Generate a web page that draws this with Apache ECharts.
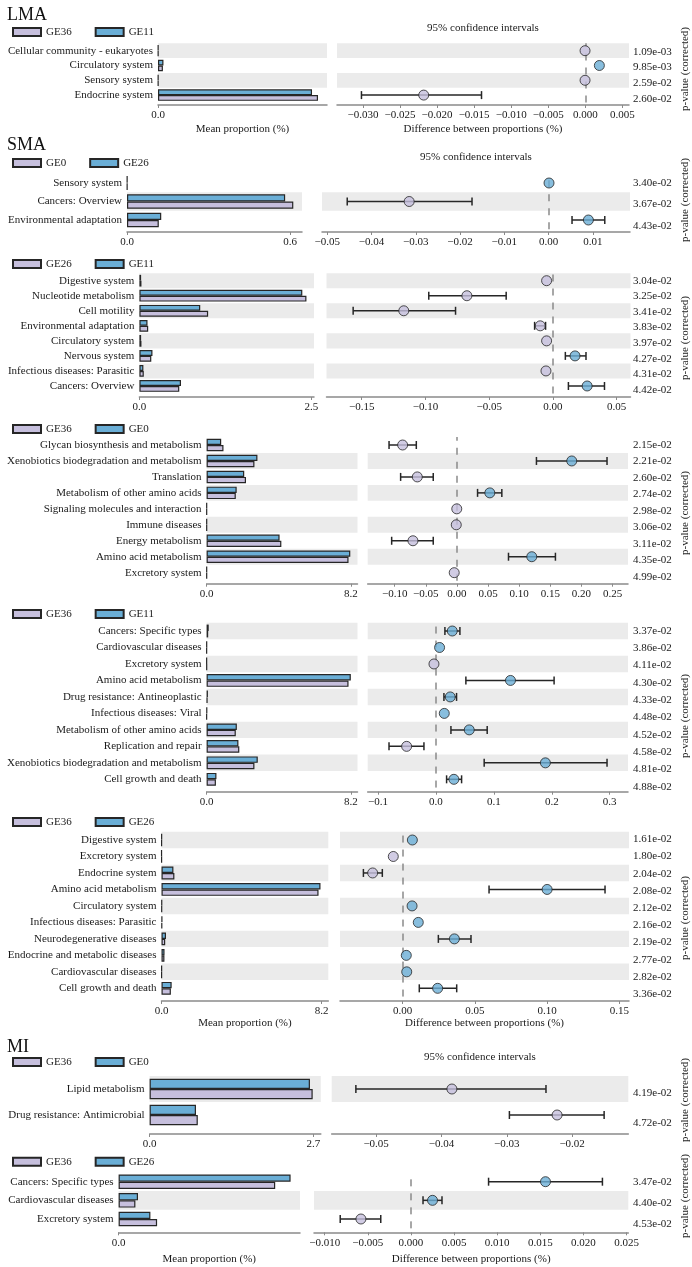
<!DOCTYPE html>
<html><head><meta charset="utf-8">
<script src="https://cdn.jsdelivr.net/npm/echarts@6/dist/echarts.min.js"></script>
<style>html,body{margin:0;padding:0;background:#fff}#c{width:692px;height:1267px}</style>
</head><body><div id="c"></div>
<script>
// ---------------- DATA (rows listed top to bottom) ----------------
const lmaGroups = ['GE36', 'GE11'];
const lmaNames = ['Cellular community - eukaryotes', 'Circulatory system', 'Sensory system', 'Endocrine system'];
const lmaG1 = [0.001, 0.018, 0.001, 0.587];
const lmaG2 = [0.001, 0.020, 0.001, 0.565];
const lmaDiff = [-0.00003, 0.0019, -0.00003, -0.0218];
const lmaLo = [null, null, null, -0.0302];
const lmaHi = [null, null, null, -0.0140];
const lmaP = ['1.09e-03', '9.85e-03', '2.59e-02', '2.60e-02'];
const lmaBarTicks = ['0.0'];
const lmaCiTicks = ['\u22120.030', '\u22120.025', '\u22120.020', '\u22120.015', '\u22120.010', '\u22120.005', '0.000', '0.005'];

const sma1Groups = ['GE0', 'GE26'];
const sma1Names = ['Sensory system', 'Cancers: Overview', 'Environmental adaptation'];
const sma1G1 = [0.001, 0.612, 0.117];
const sma1G2 = [0.001, 0.582, 0.126];
const sma1Diff = [0.0001, -0.0315, 0.0090];
const sma1Lo = [null, -0.0455, 0.0053];
const sma1Hi = [null, -0.0173, 0.0127];
const sma1P = ['3.40e-02', '3.67e-02', '4.43e-02'];
const sma1BarTicks = ['0.0', '0.6'];
const sma1CiTicks = ['\u22120.05', '\u22120.04', '\u22120.03', '\u22120.02', '\u22120.01', '0.00', '0.01'];

const sma2Groups = ['GE26', 'GE11'];
const sma2Names = ['Digestive system', 'Nucleotide metabolism', 'Cell motility', 'Environmental adaptation', 'Circulatory system', 'Nervous system', 'Infectious diseases: Parasitic', 'Cancers: Overview'];
const sma2G1 = [0.030, 2.43, 1.00, 0.128, 0.030, 0.173, 0.064, 0.58];
const sma2G2 = [0.025, 2.37, 0.885, 0.118, 0.025, 0.190, 0.058, 0.605];
const sma2Diff = [-0.0050, -0.0675, -0.1170, -0.0100, -0.0050, 0.0173, -0.0055, 0.0268];
const sma2Lo = [null, -0.0974, -0.1567, -0.0144, null, 0.0097, null, 0.0121];
const sma2Hi = [null, -0.0367, -0.0764, -0.0058, null, 0.0259, null, 0.0404];
const sma2P = ['3.04e-02', '3.25e-02', '3.41e-02', '3.83e-02', '3.97e-02', '4.27e-02', '4.31e-02', '4.42e-02'];
const sma2BarTicks = ['0.0', '2.5'];
const sma2CiTicks = ['\u22120.15', '\u22120.10', '\u22120.05', '0.00', '0.05'];

const sma3Groups = ['GE36', 'GE0'];
const sma3Names = ['Glycan biosynthesis and metabolism', 'Xenobiotics biodegradation and metabolism', 'Translation', 'Metabolism of other amino acids', 'Signaling molecules and interaction', 'Immune diseases', 'Energy metabolism', 'Amino acid metabolism', 'Excretory system'];
const sma3G1 = [0.96, 2.72, 2.24, 1.66, 0.01, 0.01, 4.25, 8.07, 0.01];
const sma3G2 = [0.83, 2.89, 2.14, 1.71, 0.01, 0.01, 4.15, 8.17, 0.01];
const sma3Diff = [-0.0872, 0.1845, -0.0636, 0.0529, -0.0002, -0.0010, -0.0706, 0.1203, -0.0043];
const sma3Lo = [-0.1090, 0.1278, -0.0904, 0.0332, null, null, -0.1048, 0.0829, null];
const sma3Hi = [-0.0652, 0.2412, -0.0380, 0.0722, null, null, -0.0380, 0.1583, null];
const sma3P = ['2.15e-02', '2.21e-02', '2.60e-02', '2.74e-02', '2.98e-02', '3.06e-02', '3.11e-02', '4.35e-02', '4.99e-02'];
const sma3BarTicks = ['0.0', '8.2'];
const sma3CiTicks = ['\u22120.10', '\u22120.05', '0.00', '0.05', '0.10', '0.15', '0.20', '0.25'];

const sma4Groups = ['GE36', 'GE11'];
const sma4Names = ['Cancers: Specific types', 'Cardiovascular diseases', 'Excretory system', 'Amino acid metabolism', 'Drug resistance: Antineoplastic', 'Infectious diseases: Viral', 'Metabolism of other amino acids', 'Replication and repair', 'Xenobiotics biodegradation and metabolism', 'Cell growth and death'];
const sma4G1 = [0.09, 0.005, 0.010, 8.07, 0.05, 0.005, 1.66, 1.86, 2.72, 0.53];
const sma4G2 = [0.12, 0.010, 0.005, 8.20, 0.075, 0.020, 1.72, 1.81, 2.91, 0.56];
const sma4Diff = [0.0282, 0.0063, -0.0034, 0.1287, 0.0247, 0.0144, 0.0575, -0.0506, 0.1890, 0.0310];
const sma4Lo = [0.0155, null, null, 0.0517, 0.0138, null, 0.0259, -0.0810, 0.0833, 0.0184];
const sma4Hi = [0.0414, null, null, 0.2040, 0.0356, null, 0.0885, -0.0207, 0.2954, 0.0443];
const sma4P = ['3.37e-02', '3.86e-02', '4.11e-02', '4.30e-02', '4.33e-02', '4.48e-02', '4.52e-02', '4.58e-02', '4.81e-02', '4.88e-02'];
const sma4BarTicks = ['0.0', '8.2'];
const sma4CiTicks = ['\u22120.1', '0.0', '0.1', '0.2', '0.3'];

const sma5Groups = ['GE36', 'GE26'];
const sma5Names = ['Digestive system', 'Excretory system', 'Endocrine system', 'Amino acid metabolism', 'Circulatory system', 'Infectious diseases: Parasitic', 'Neurodegenerative diseases', 'Endocrine and metabolic diseases', 'Cardiovascular diseases', 'Cell growth and death'];
const sma5G1 = [0.010, 0.010, 0.66, 8.04, 0.020, 0.030, 0.19, 0.150, 0.010, 0.48];
const sma5G2 = [0.015, 0.005, 0.61, 8.14, 0.025, 0.040, 0.23, 0.155, 0.013, 0.52];
const sma5Diff = [0.0067, -0.0065, -0.0208, 0.1000, 0.0065, 0.0108, 0.0358, 0.0025, 0.0028, 0.0242];
const sma5Lo = [null, null, -0.0272, 0.0598, null, null, 0.0247, null, null, 0.0115];
const sma5Hi = [null, null, -0.0141, 0.1401, null, null, 0.0473, null, null, 0.0374];
const sma5P = ['1.61e-02', '1.80e-02', '2.04e-02', '2.08e-02', '2.12e-02', '2.16e-02', '2.19e-02', '2.77e-02', '2.82e-02', '3.36e-02'];
const sma5BarTicks = ['0.0', '8.2'];
const sma5CiTicks = ['0.00', '0.05', '0.10', '0.15'];

const mi1Groups = ['GE36', 'GE0'];
const mi1Names = ['Lipid metabolism', 'Drug resistance: Antimicrobial'];
const mi1G1 = [2.69, 0.795];
const mi1G2 = [2.645, 0.765];
const mi1Diff = [-0.0384, -0.0223];
const mi1Lo = [-0.0531, -0.0296];
const mi1Hi = [-0.0240, -0.0151];
const mi1P = ['4.19e-02', '4.72e-02'];
const mi1BarTicks = ['0.0', '2.7'];
const mi1CiTicks = ['\u22120.05', '\u22120.04', '\u22120.03', '\u22120.02'];

const mi2Groups = ['GE36', 'GE26'];
const mi2Names = ['Cancers: Specific types', 'Cardiovascular diseases', 'Excretory system'];
const mi2G1 = [0.1566, 0.0168, 0.0385];
const mi2G2 = [0.1720, 0.0194, 0.0318];
const mi2Diff = [0.0156, 0.0025, -0.0058];
const mi2Lo = [0.0090, 0.0014, -0.0082];
const mi2Hi = [0.0222, 0.0036, -0.0035];
const mi2P = ['3.47e-02', '4.40e-02', '4.53e-02'];
const mi2BarTicks = ['0.0'];
const mi2CiTicks = ['\u22120.010', '\u22120.005', '0.000', '0.005', '0.010', '0.015', '0.020', '0.025'];

const sectionTitles = ['LMA', 'SMA', 'MI'];

// ---------------- LAYOUT / STYLE ----------------
const FONT = "'Liberation Serif','Times New Roman',serif";
const LAV = '#c6bfdd', BLUE = '#6aaed6', EDGE = '#262626', SHADE = '#ebebeb', AXIS = '#8a8a8a', TXT = '#1a1a1a';
const FS = 11;

const panels = [
  {id:'lma', groups:lmaGroups, names:lmaNames, g1:lmaG1, g2:lmaG2, diff:lmaDiff, lo:lmaLo, hi:lmaHi, p:lmaP, barTicks:lmaBarTicks, ciTicks:lmaCiTicks,
   L:{rowTop:50.7,rowH:14.8,axisY:105,legendY:33,barL:158,barR:327,barMax:0.62,ciL:337,ciR:629,ciMin:-0.0335,ciMax:0.0059,pTop:51.7,pH:15.8,pLabelY:69,ciTitle:[483,28],names:18.5}},
  {id:'sma1', groups:sma1Groups, names:sma1Names, g1:sma1G1, g2:sma1G2, diff:sma1Diff, lo:sma1Lo, hi:sma1Hi, p:sma1P, barTicks:sma1BarTicks, ciTicks:sma1CiTicks,
   L:{rowTop:183,rowH:18.5,axisY:232,legendY:164,barL:127,barR:302,barMax:0.644,ciL:322,ciR:630,ciMin:-0.0512,ciMax:0.0184,pTop:183,pH:21.5,pLabelY:200,ciTitle:[476,157]}},
  {id:'sma2', groups:sma2Groups, names:sma2Names, g1:sma2G1, g2:sma2G2, diff:sma2Diff, lo:sma2Lo, hi:sma2Hi, p:sma2P, barTicks:sma2BarTicks, ciTicks:sma2CiTicks,
   L:{rowTop:280.7,rowH:15.04,axisY:397,legendY:265,barL:139.4,barR:314,barMax:2.54,ciL:326.5,ciR:630.5,ciMin:-0.1776,ciMax:0.0608,pTop:280.7,pH:15.6,pLabelY:338}},
  {id:'sma3', groups:sma3Groups, names:sma3Names, g1:sma3G1, g2:sma3G2, diff:sma3Diff, lo:sma3Lo, hi:sma3Hi, p:sma3P, barTicks:sma3BarTicks, ciTicks:sma3CiTicks,
   L:{rowTop:445,rowH:15.96,axisY:583.7,legendY:430,barL:206.6,barR:357.5,barMax:8.58,ciL:367.7,ciR:628,ciMin:-0.1433,ciMax:0.2749,pTop:445,pH:16.46,pLabelY:513}},
  {id:'sma4', groups:sma4Groups, names:sma4Names, g1:sma4G1, g2:sma4G2, diff:sma4Diff, lo:sma4Lo, hi:sma4Hi, p:sma4P, barTicks:sma4BarTicks, ciTicks:sma4CiTicks,
   L:{rowTop:631,rowH:16.48,axisY:791.7,legendY:615,barL:206.6,barR:357.5,barMax:8.58,ciL:367.7,ciR:628,ciMin:-0.1178,ciMax:0.3316,pTop:631,pH:17.3,pLabelY:716}},
  {id:'sma5', groups:sma5Groups, names:sma5Names, g1:sma5G1, g2:sma5G2, diff:sma5Diff, lo:sma5Lo, hi:sma5Hi, p:sma5P, barTicks:sma5BarTicks, ciTicks:sma5CiTicks,
   L:{rowTop:840,rowH:16.48,axisY:1001,legendY:823,barL:161.5,barR:328.3,barMax:8.54,ciL:340,ciR:629,ciMin:-0.0434,ciMax:0.1567,pTop:839.3,pH:17.2,pLabelY:918,names:16}},
  {id:'mi1', groups:mi1Groups, names:mi1Names, g1:mi1G1, g2:mi1G2, diff:mi1Diff, lo:mi1Lo, hi:mi1Hi, p:mi1P, barTicks:mi1BarTicks, ciTicks:mi1CiTicks,
   L:{rowTop:1089,rowH:26,axisY:1134,legendY:1063,barL:149.6,barR:320.8,barMax:2.824,ciL:331.7,ciR:628.3,ciMin:-0.0568,ciMax:-0.0114,pTop:1093,pH:29.7,pLabelY:1100,ciTitle:[480,1057]}},
  {id:'mi2', groups:mi2Groups, names:mi2Names, g1:mi2G1, g2:mi2G2, diff:mi2Diff, lo:mi2Lo, hi:mi2Hi, p:mi2P, barTicks:mi2BarTicks, ciTicks:mi2CiTicks,
   L:{rowTop:1181.7,rowH:18.65,axisY:1232.3,legendY:1162.7,barL:118.6,barR:300,barMax:0.1814,ciL:314,ciR:628.3,ciMin:-0.01124,ciMax:0.0252,pTop:1182.3,pH:20.85,pLabelY:1196,names:21}}
];
const sectionY = [15, 145, 1047];

// ---------------- BUILD ----------------
const num = s => parseFloat(String(s).replace('\u2212', '-'));
const labelFor = (ticks) => (v) => {
  for (const t of ticks) if (Math.abs(num(t) - v) < 1e-9) return t;
  return '';
};
const txt = {fontFamily: FONT, fontSize: FS, color: TXT};

function renderErr(params, api) {
  const y = api.value(2);
  const a = api.coord([api.value(0), y]);
  const b = api.coord([api.value(1), y]);
  const h = 4;
  const st = {stroke: EDGE, lineWidth: 1.5};
  return {type: 'group', children: [
    {type: 'line', shape: {x1: a[0], y1: a[1], x2: b[0], y2: b[1]}, style: st},
    {type: 'line', shape: {x1: a[0], y1: a[1] - h, x2: a[0], y2: a[1] + h}, style: st},
    {type: 'line', shape: {x1: b[0], y1: b[1] - h, x2: b[0], y2: b[1] + h}, style: st}
  ]};
}

const option = {animation: false, textStyle: {fontFamily: FONT}, grid: [], xAxis: [], yAxis: [], series: [], legend: [], graphic: []};

panels.forEach((P, k) => {
  const L = P.L, n = P.names.length;
  const rev = a => a.slice().reverse();
  const names = rev(P.names), g1 = rev(P.g1), g2 = rev(P.g2), diff = rev(P.diff), lo = rev(P.lo), hi = rev(P.hi), pv = rev(P.p);
  const top = L.rowTop - L.rowH / 2, height = n * L.rowH;
  const off = L.axisY - (top + height);
  const gi = option.grid.length;
  option.grid.push({left: L.barL, width: L.barR - L.barL, top: top, height: height});
  option.grid.push({left: L.ciL, width: L.ciR - L.ciL, top: top, height: height});
  option.grid.push({left: 633, width: 45, top: L.pTop - L.pH / 2, height: n * L.pH});
  const axisLine = {show: true, onZero: false, lineStyle: {color: AXIS, width: 1.5}};
  const axisTickBase = {show: true, length: 3, lineStyle: {color: AXIS, width: 1}};
  const split = {show: true, interval: 0, areaStyle: {color: ['rgba(0,0,0,0)', SHADE]}};
  const showNames = L.names !== undefined;
  // bar grid axes
  option.xAxis.push({gridIndex: gi, type: 'value', min: 0, max: L.barMax, offset: off,
    axisLine: axisLine, splitLine: {show: false},
    axisTick: Object.assign({}, axisTickBase, {customValues: P.barTicks.map(num)}),
    axisLabel: Object.assign({}, txt, {customValues: P.barTicks.map(num), formatter: labelFor(P.barTicks), margin: 5}),
    name: showNames ? 'Mean proportion (%)' : '', nameLocation: 'middle', nameGap: showNames ? L.names : 0, nameTextStyle: txt});
  option.yAxis.push({gridIndex: gi, type: 'category', data: names, axisLine: {show: false}, axisTick: {show: false},
    axisLabel: Object.assign({}, txt, {interval: 0, margin: 5}), splitArea: split});
  // ci grid axes
  option.xAxis.push({gridIndex: gi + 1, type: 'value', min: L.ciMin, max: L.ciMax, offset: off,
    axisLine: axisLine, splitLine: {show: false},
    axisTick: Object.assign({}, axisTickBase, {customValues: P.ciTicks.map(num)}),
    axisLabel: Object.assign({}, txt, {customValues: P.ciTicks.map(num), formatter: labelFor(P.ciTicks), margin: 5}),
    name: showNames ? 'Difference between proportions (%)' : '', nameLocation: 'middle', nameGap: showNames ? L.names : 0, nameTextStyle: txt});
  option.yAxis.push({gridIndex: gi + 1, type: 'category', data: names, axisLine: {show: false}, axisTick: {show: false},
    axisLabel: {show: false}, splitArea: split});
  // p-value axis
  option.xAxis.push({gridIndex: gi + 2, type: 'value', show: false});
  option.yAxis.push({gridIndex: gi + 2, type: 'category', data: pv, position: 'left', axisLine: {show: false}, axisTick: {show: false},
    axisLabel: Object.assign({}, txt, {inside: true, margin: 0, interval: 0}), splitArea: {show: false}});

  const s1 = P.id + '|' + P.groups[0], s2 = P.id + '|' + P.groups[1];
  const barCommon = {type: 'bar', xAxisIndex: gi, yAxisIndex: gi, barGap: '0%', barCategoryGap: '22%', silent: true};
  option.series.push(Object.assign({}, barCommon, {name: s2, data: g2, itemStyle: {color: BLUE, borderColor: EDGE, borderWidth: 1.2}}));
  option.series.push(Object.assign({}, barCommon, {name: s1, data: g1, itemStyle: {color: LAV, borderColor: EDGE, borderWidth: 1.2}}));

  if (L.ciMin < 0 && L.ciMax > 0) {
    option.series.push({type: 'scatter', xAxisIndex: gi + 1, yAxisIndex: gi + 1, data: [[0, 0]], symbolSize: 0, silent: true, z: 1,
      markLine: {silent: true, symbol: ['none', 'none'], label: {show: false},
        lineStyle: {type: [7, 7], color: AXIS, width: 1.5}, data: [{xAxis: 0}]}});
  }
  const errData = [];
  lo.forEach((v, i) => { if (v !== null) errData.push([v, hi[i], i]); });
  option.series.push({type: 'custom', xAxisIndex: gi + 1, yAxisIndex: gi + 1, renderItem: renderErr, encode: {x: [0, 1], y: 2}, data: errData, z: 3, silent: true});
  option.series.push({type: 'scatter', xAxisIndex: gi + 1, yAxisIndex: gi + 1, z: 5, symbolSize: 10, silent: true,
    itemStyle: {borderColor: EDGE, borderWidth: 1},
    data: diff.map((d, i) => ({value: [d, i], itemStyle: {color: d > 0 ? BLUE : LAV}}))});

  option.legend.push({left: 12, top: L.legendY - 6.5, padding: 0, itemWidth: 28, itemHeight: 8, itemGap: 23, icon: 'rect',
    selectedMode: false, data: [s1, s2], formatter: nm => nm.split('|')[1], textStyle: txt});

  option.graphic.push({type: 'text', x: 685, y: L.pLabelY, rotation: Math.PI / 2,
    style: {text: 'p-value (corrected)', align: 'center', verticalAlign: 'middle', fontFamily: FONT, fontSize: FS, fill: TXT}});
  if (L.ciTitle) {
    option.graphic.push({type: 'text', x: L.ciTitle[0], y: L.ciTitle[1],
      style: {text: '95% confidence intervals', align: 'center', verticalAlign: 'middle', fontFamily: FONT, fontSize: FS, fill: TXT}});
  }
});
sectionTitles.forEach((t, i) => {
  option.graphic.push({type: 'text', x: 7, y: sectionY[i],
    style: {text: t, align: 'left', verticalAlign: 'middle', fontFamily: FONT, fontSize: 18, fill: '#111'}});
});

const chart = echarts.init(document.getElementById('c'), null, {renderer: 'canvas'});
chart.setOption(option);
</script>
</body></html>
